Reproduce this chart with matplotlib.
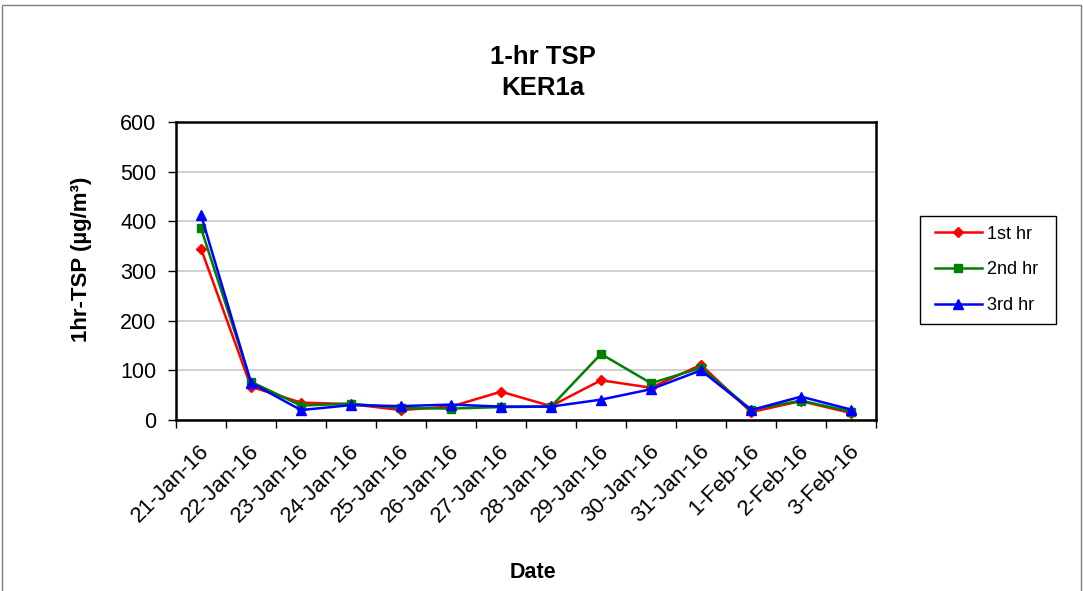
import matplotlib
matplotlib.use("Agg")
import matplotlib.pyplot as plt
import matplotlib.transforms as mtransforms
from matplotlib.patches import Rectangle

dates = ["21-Jan-16", "22-Jan-16", "23-Jan-16", "24-Jan-16", "25-Jan-16",
         "26-Jan-16", "27-Jan-16", "28-Jan-16", "29-Jan-16", "30-Jan-16",
         "31-Jan-16", "1-Feb-16", "2-Feb-16", "3-Feb-16"]
hr1 = [345, 67, 35, 32, 20, 27, 57, 28, 80, 65, 111, 16, 38, 14]
hr2 = [386, 77, 29, 33, 24, 23, 26, 27, 133, 74, 105, 21, 39, 17]
hr3 = [413, 75, 20, 30, 28, 31, 27, 27, 41, 62, 100, 20, 47, 21]
yticks = [0, 100, 200, 300, 400, 500, 600]

plt.rcParams['font.family'] = ['Liberation Sans', 'DejaVu Sans']

W, H = 1083, 591
fig = plt.figure(figsize=(W / 100, H / 100), dpi=100)
ax = fig.add_axes([176 / W, 1 - 420 / H, 700 / W, 298 / H])

x = list(range(len(dates)))
l1, = ax.plot(x, hr1, color='#ff0000', lw=1.8, marker='D', ms=5, label='1st hr', zorder=3)
l2, = ax.plot(x, hr2, color='#008000', lw=1.8, marker='s', ms=5.5, label='2nd hr', zorder=4)
l3, = ax.plot(x, hr3, color='#0000ff', lw=1.8, marker='^', ms=6.5, label='3rd hr', zorder=5)

ax.set_xlim(-0.5, len(dates) - 0.5)
ax.set_ylim(0, 600)
ax.set_yticks(yticks)
ax.yaxis.grid(True, color='#c8c8c8', lw=1.2)
ax.set_axisbelow(True)
ax.tick_params(axis='y', direction='out', length=6, width=1, pad=8, labelsize=15.5)

ax.set_xticks(x)
ax.set_xticks([i - 0.5 for i in range(len(dates) + 1)], minor=True)
ax.tick_params(axis='x', which='major', length=0, pad=20, labelsize=16)
ax.tick_params(axis='x', which='minor', direction='out', length=6, width=1)
ax.set_xticklabels(dates, rotation=45, ha='right', va='center', rotation_mode='anchor')
offset = mtransforms.ScaledTranslation(5 / 100, 0, fig.dpi_scale_trans)
for lab in ax.get_xticklabels():
    lab.set_transform(lab.get_transform() + offset)

for s in ax.spines.values():
    s.set_linewidth(1.8)
    s.set_color('black')

fig.text(543 / W, 1 - 57 / H, "1-hr TSP", ha='center', va='center', fontsize=18.5, fontweight='bold')
fig.text(543 / W, 1 - 88 / H, "KER1a", ha='center', va='center', fontsize=18.5, fontweight='bold')
fig.text(533 / W, 1 - 572 / H, "Date", ha='center', va='center', fontsize=15.5, fontweight='bold')
fig.text(82 / W, 1 - 259 / H, "1hr-TSP (µg/m³)", ha='center', va='center', rotation=90,
         fontsize=16, fontweight='bold')

leg = fig.legend(handles=[l1, l2, l3], loc='center left',
                 bbox_to_anchor=(935 / W, 1 - 270 / H), frameon=False,
                 fontsize=13, handlelength=2.6, handletextpad=0.3, labelspacing=1.05,
                 borderpad=0, borderaxespad=0)
fig.patches.append(Rectangle((920 / W, 1 - 324 / H), 136 / W, 108 / H,
                             transform=fig.transFigure, fill=False, ec='black', lw=1))
fig.patches.append(Rectangle((2 / W, -0.01), 1079 / W, 1 - 5 / H + 0.01,
                             transform=fig.transFigure, fill=False, ec='#7f7f7f', lw=1))

fig.savefig("out.png", dpi=100)
